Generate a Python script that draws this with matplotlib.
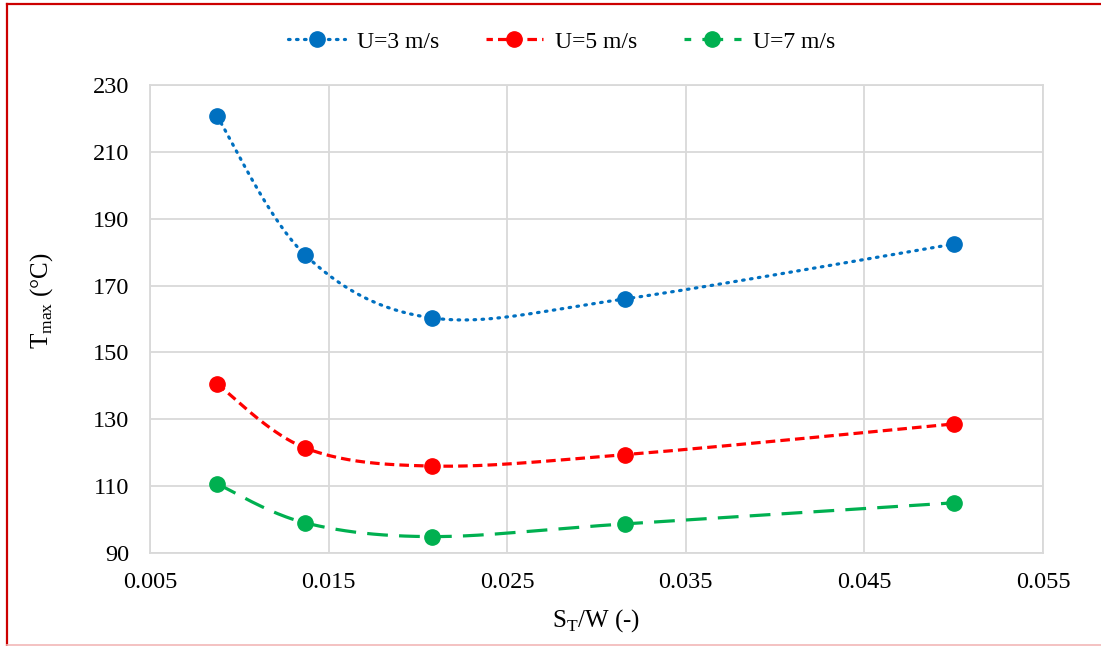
import matplotlib
matplotlib.use('Agg')
import matplotlib.pyplot as plt
from matplotlib.lines import Line2D
import numpy as np

plt.rcParams['font.family'] = ['Liberation Serif', 'DejaVu Serif']
plt.rcParams['mathtext.fontset'] = 'custom'
plt.rcParams['mathtext.rm'] = 'Liberation Serif'

# spacing ratio S_T/W and peak temperature for each wind speed
st_w = [0.00875, 0.0137, 0.0208, 0.0316, 0.0500]
t_u3 = [220.7, 179.1, 160.3, 166.0, 182.4]
t_u5 = [140.6, 121.4, 116.0, 119.4, 128.6]
t_u7 = [110.7, 99.0, 94.9, 98.7, 105.0]
labels = ['U=3 m/s', 'U=5 m/s', 'U=7 m/s']
colors = ['#0070C0', '#FF0000', '#00B050']
styles = [(0, (0.5, 2.0)), (0, (3, 1.6)), (0, (6.5, 3.5))]
legend_styles = [(0, (0.5, 2.0)), (1.0, (3, 1.6)), (4.4, (6.5, 3.5))]
caps = ['round', 'butt', 'butt']


def smooth(x, y, n=40):
    # bezier smoothing through every point, like spreadsheet "smoothed line"
    x = np.asarray(x, float)
    y = np.asarray(y, float)
    px, py = [x[0]], [y[0]]
    for i in range(len(x) - 1):
        x0, y0 = (x[i - 1], y[i - 1]) if i > 0 else (x[i], y[i])
        x3, y3 = (x[i + 2], y[i + 2]) if i + 2 < len(x) else (x[i + 1], y[i + 1])
        c1x = x[i] + (x[i + 1] - x0) / 6
        c1y = y[i] + (y[i + 1] - y0) / 6
        c2x = x[i + 1] - (x3 - x[i]) / 6
        c2y = y[i + 1] - (y3 - y[i]) / 6
        t = np.linspace(0, 1, n)[1:]
        b0, b1, b2, b3 = (1 - t) ** 3, 3 * t * (1 - t) ** 2, 3 * t ** 2 * (1 - t), t ** 3
        px.extend(b0 * x[i] + b1 * c1x + b2 * c2x + b3 * x[i + 1])
        py.extend(b0 * y[i] + b1 * c1y + b2 * c2y + b3 * y[i + 1])
    return np.array(px), np.array(py)


fig = plt.figure(figsize=(11.01, 6.46), dpi=100)
ax = fig.add_axes([0.1362, 0.1440, 0.8111, 0.7245])

handles = []
for ys, col, ls, lls, cap in zip([t_u3, t_u5, t_u7], colors, styles, legend_styles, caps):
    sx, sy = smooth(st_w, ys)
    ax.plot(sx, sy, color=col, lw=2.3, linestyle=ls, dash_capstyle=cap, zorder=3)
    ax.plot(st_w, ys, 'o', color=col, ms=11, zorder=4)
    h, = ax.plot([], [], color=col, lw=2.3, linestyle=lls, marker='o', ms=11,
                 dash_capstyle=cap)
    handles.append(h)

ax.set_xlim(0.005, 0.055)
ax.set_ylim(90, 230)
ax.set_xticks(np.arange(0.005, 0.0551, 0.01))
ax.set_xticklabels(['0.005', '0.015', '0.025', '0.035', '0.045', '0.055'])
ax.set_yticks(np.arange(90, 231, 20))
ax.grid(True, color='#d9d9d9', lw=1.3)
ax.set_axisbelow(True)
for s in ax.spines.values():
    s.set_color('#d9d9d9')
    s.set_linewidth(1.3)
ax.tick_params(axis='y', length=0, labelsize=17.5, colors='black', pad=15)
ax.tick_params(axis='x', length=0, labelsize=17.5, colors='black', pad=14)

ax.set_xlabel(r'S$_\mathrm{T}$/W (-)', fontsize=18, labelpad=10)
ax.set_ylabel(r'T$_\mathrm{max}$ (°C)', fontsize=18)
ax.yaxis.set_label_coords(-0.106, 0.54)

fig.legend(handles=handles, labels=labels, loc='center', bbox_to_anchor=(0.51, 0.935),
           ncol=3, frameon=False, fontsize=17, handlelength=2.4, columnspacing=2.0,
           handletextpad=0.5)

# red frame: left and top edges, faint bottom edge
fig.add_artist(Line2D([7 / 1101, 7 / 1101], [1 / 646, 1 - 4 / 646], transform=fig.transFigure,
                      color='#CC0000', lw=1.6))
fig.add_artist(Line2D([7 / 1101, 1], [1 - 4 / 646, 1 - 4 / 646], transform=fig.transFigure,
                      color='#CC0000', lw=1.6))
fig.add_artist(Line2D([7 / 1101, 1], [1 / 646, 1 / 646], transform=fig.transFigure,
                      color='#F2B8B8', lw=1.2))

fig.savefig('out.png', dpi=100)
